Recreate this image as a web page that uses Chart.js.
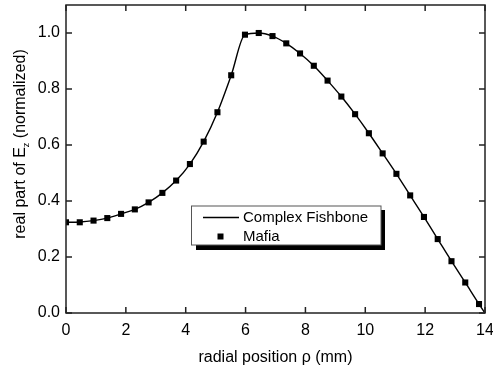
<!DOCTYPE html>
<html>
<head>
<meta charset="utf-8">
<script src="https://cdn.jsdelivr.net/npm/chart.js@4"></script>
<style>
  html, body { margin: 0; padding: 0; background: #fff; }
</style>
</head>
<body>
<canvas id="c" width="493" height="372"></canvas>
<script>
// radial positions of the Mafia samples (mm)
const rhoMafia = [0, 0.46, 0.92, 1.38, 1.84, 2.30, 2.76, 3.22, 3.68, 4.14, 4.60, 5.06, 5.52, 5.98,
  6.44, 6.90, 7.36, 7.82, 8.28, 8.74, 9.20, 9.66, 10.12, 10.58, 11.04, 11.50, 11.96, 12.42, 12.88, 13.34, 13.80];
const ezMafia = [0.324, 0.324, 0.330, 0.339, 0.354, 0.370, 0.395, 0.429, 0.473, 0.532, 0.612, 0.717, 0.849, 0.994,
  1.000, 0.989, 0.963, 0.927, 0.883, 0.830, 0.773, 0.710, 0.642, 0.570, 0.497, 0.420, 0.343, 0.264, 0.185, 0.109, 0.032];

// Complex Fishbone curve (runs down to the wall at 14 mm)
const rhoFishbone = [0, 0.46, 0.92, 1.38, 1.84, 2.30, 2.76, 3.22, 3.68, 4.14, 4.60, 5.06, 5.52, 5.98,
  6.44, 6.90, 7.36, 7.82, 8.28, 8.74, 9.20, 9.66, 10.12, 10.58, 11.04, 11.50, 11.96, 12.42, 12.88, 13.34, 13.80, 14.0];
const ezFishbone = [0.324, 0.325, 0.330, 0.339, 0.354, 0.370, 0.395, 0.429, 0.473, 0.532, 0.612, 0.717, 0.849, 0.994,
  1.000, 0.989, 0.963, 0.927, 0.883, 0.830, 0.773, 0.710, 0.642, 0.570, 0.497, 0.420, 0.343, 0.264, 0.185, 0.109, 0.032, 0.0];

const xTicks = [0, 2, 4, 6, 8, 10, 12, 14];
const yTicks = [0.0, 0.2, 0.4, 0.6, 0.8, 1.0];

const FONT = "'Liberation Sans', Arial, sans-serif";

function pairs(xs, ys) {
  return xs.map((x, i) => ({ x: x, y: ys[i] }));
}

// frame with inward ticks on all four sides
const framePlugin = {
  id: 'frame',
  afterDraw(chart) {
    const ctx = chart.ctx;
    const a = chart.chartArea;
    const sx = chart.scales.x, sy = chart.scales.y;
    ctx.save();
    ctx.strokeStyle = '#222';
    ctx.lineWidth = 1.5;
    ctx.strokeRect(a.left, a.top, a.right - a.left, a.bottom - a.top);
    ctx.beginPath();
    xTicks.forEach(v => {
      const px = sx.getPixelForValue(v);
      ctx.moveTo(px, a.bottom); ctx.lineTo(px, a.bottom - 6);
      ctx.moveTo(px, a.top); ctx.lineTo(px, a.top + 6);
    });
    yTicks.forEach(v => {
      const py = sy.getPixelForValue(v);
      ctx.moveTo(a.left, py); ctx.lineTo(a.left + 6, py);
      ctx.moveTo(a.right, py); ctx.lineTo(a.right - 6, py);
    });
    ctx.stroke();

    // axis titles
    ctx.fillStyle = '#000';
    ctx.font = '16px ' + FONT;
    ctx.textAlign = 'center';
    ctx.textBaseline = 'alphabetic';
    ctx.fillText('radial position \u03c1 (mm)', (a.left + a.right) / 2, 362);

    const p1 = 'real part of E', p2 = 'z', p3 = ' (normalized)';
    ctx.font = '16px ' + FONT;
    const w1 = ctx.measureText(p1).width, w3 = ctx.measureText(p3).width;
    ctx.font = '9px ' + FONT;
    const w2 = ctx.measureText(p2).width;
    const total = w1 + w2 + w3;
    ctx.translate(25, 144);
    ctx.rotate(-Math.PI / 2);
    ctx.textAlign = 'left';
    ctx.font = '16px ' + FONT;
    ctx.fillText(p1, -total / 2, 0);
    ctx.font = '9px ' + FONT;
    ctx.fillText(p2, -total / 2 + w1, 4);
    ctx.font = '16px ' + FONT;
    ctx.fillText(p3, -total / 2 + w1 + w2, 0);
    ctx.restore();

    // legend box with drop shadow
    const ds = chart.data.datasets;
    ctx.save();
    ctx.fillStyle = '#000';
    ctx.fillRect(196, 210, 189, 40);
    ctx.fillStyle = '#fff';
    ctx.fillRect(191.5, 206, 189.5, 39);
    ctx.strokeStyle = '#555';
    ctx.lineWidth = 1;
    ctx.strokeRect(191.5, 206, 189.5, 39);
    ctx.strokeStyle = '#000';
    ctx.lineWidth = 1.5;
    ctx.beginPath();
    ctx.moveTo(203, 217.5); ctx.lineTo(239, 217.5);
    ctx.stroke();
    ctx.fillStyle = '#000';
    ctx.fillRect(217.5, 233.5, 6, 6);
    ctx.font = '15px ' + FONT;
    ctx.textAlign = 'left';
    ctx.textBaseline = 'middle';
    ctx.fillText(ds[0].label, 243, 218);
    ctx.fillText(ds[1].label, 243, 237);
    ctx.restore();
  }
};

new Chart(document.getElementById('c'), {
  type: 'scatter',
  data: {
    datasets: [
      {
        label: 'Complex Fishbone',
        data: pairs(rhoFishbone, ezFishbone),
        showLine: true,
        borderColor: '#000',
        borderWidth: 1.4,
        pointRadius: 0,
        cubicInterpolationMode: 'monotone',
        order: 2
      },
      {
        label: 'Mafia',
        data: pairs(rhoMafia, ezMafia),
        showLine: false,
        pointStyle: 'rect',
        pointRadius: 4.3,
        pointBackgroundColor: '#000',
        pointBorderColor: '#000',
        pointBorderWidth: 0,
        order: 1
      }
    ]
  },
  options: {
    responsive: false,
    animation: false,
    devicePixelRatio: 1,
    layout: { padding: { left: 0, right: 8, top: 5, bottom: 0 } },
    plugins: {
      legend: { display: false },
      tooltip: { enabled: false }
    },
    scales: {
      x: {
        type: 'linear',
        min: 0, max: 14,
        grid: { display: false, drawTicks: false },
        border: { display: false },
        afterBuildTicks: s => { s.ticks = xTicks.map(v => ({ value: v })); },
        afterFit: s => { s.height = 59; s.paddingLeft = 0; s.paddingRight = 0; },
        ticks: {
          padding: 8,
          color: '#000',
          font: { family: FONT, size: 16 },
          maxRotation: 0,
          callback: v => String(v)
        }
      },
      y: {
        type: 'linear',
        min: 0, max: 1.1,
        grid: { display: false, drawTicks: false },
        border: { display: false },
        afterBuildTicks: s => { s.ticks = yTicks.map(v => ({ value: v })); },
        afterFit: s => { s.width = 66; s.paddingTop = 0; s.paddingBottom = 0; },
        ticks: {
          padding: 6,
          color: '#000',
          font: { family: FONT, size: 16 },
          callback: v => Number(v).toFixed(1)
        }
      }
    }
  },
  plugins: [framePlugin]
});
</script>
</body>
</html>
